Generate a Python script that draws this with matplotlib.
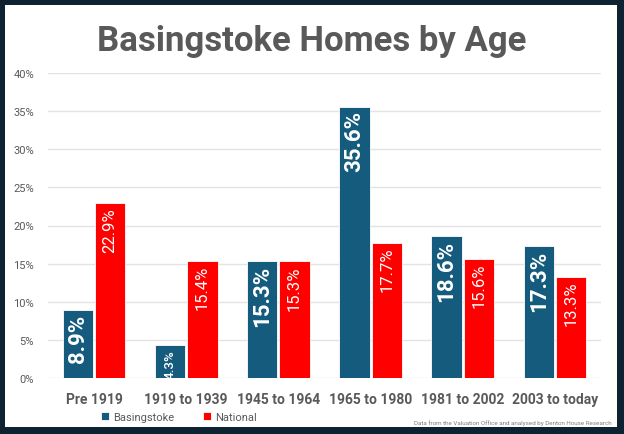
import matplotlib.pyplot as plt
from matplotlib.patches import Rectangle
import numpy as np

categories = ["Pre 1919", "1919 to 1939", "1945 to 1964", "1965 to 1980", "1981 to 2002", "2003 to today"]
basingstoke = [8.9, 4.3, 15.3, 35.6, 18.6, 17.3]
national = [22.9, 15.4, 15.3, 17.7, 15.6, 13.3]
yticks = [0, 5, 10, 15, 20, 25, 30, 35, 40]

blue = "#155b7d"
red = "#ff0000"
grey = "#595959"

plt.rcParams["font.family"] = ["Roboto", "DejaVu Sans"]

fig = plt.figure(figsize=(6.24, 4.35), dpi=100)
fig.patch.set_facecolor("#0d2232")

# white card inside the dark frame
fig.patches.append(Rectangle((5 / 624, 1 - 428 / 435), 612 / 624, 422 / 435,
                             transform=fig.transFigure, facecolor="white",
                             edgecolor="none", zorder=-5))

ax = fig.add_axes([48 / 624, 1 - 379 / 435, 553 / 624, 305 / 435])
ax.set_facecolor("white")

x = np.arange(len(categories))
w = 0.33
b1 = ax.bar(x - w / 2 - 0.01, basingstoke, w, color=blue, edgecolor="white", linewidth=0.6,
            label="Basingstoke", zorder=3)
b2 = ax.bar(x + w / 2 + 0.01, national, w, color=red, edgecolor="white", linewidth=0.6,
            label="National", zorder=3)

for rect, v in zip(b1, basingstoke):
    small = v < 6
    ax.text(rect.get_x() + rect.get_width() / 2, v - 0.5, f"{v}%",
            rotation=90, ha="center", va="top", color="white",
            fontsize=9.5 if small else 16, fontweight="medium" if small else "bold",
            zorder=4)
for rect, v in zip(b2, national):
    ax.text(rect.get_x() + rect.get_width() / 2, v - 0.5, f"{v}%",
            rotation=90, ha="center", va="top", color="white",
            fontsize=12, zorder=4)

ax.set_xlim(-0.5, 5.5)
ax.set_ylim(0, 40)
ax.set_yticks(yticks)
ax.set_yticklabels([f"{t}%" for t in yticks], fontsize=8, color=grey)
ax.set_xticks(x)
ax.set_xticklabels(categories, fontsize=10, fontweight="bold", color=grey)
ax.tick_params(length=0)
ax.tick_params(axis="x", pad=10)
ax.tick_params(axis="y", pad=10)
ax.grid(axis="y", color="#e3e3e3", linewidth=1, zorder=0)
for s in ax.spines.values():
    s.set_visible(False)

fig.text(0.5, 1 - 42 / 435, "Basingstoke Homes by Age", ha="center", va="center",
         fontsize=25, fontweight="bold", color=grey)

ax.legend(loc="center left", bbox_to_anchor=(91 / 624, 1 - 418 / 435),
          bbox_transform=fig.transFigure, ncol=2, frameon=False, fontsize=8,
          handlelength=0.7, handleheight=0.7, columnspacing=2.6, handletextpad=0.4,
          labelcolor=grey)

fig.text(612 / 624, 1 - 423 / 435,
         "Data from the Valuation Office and analysed by Denton House Research",
         ha="right", va="center", fontsize=4.5, color="#7f7f7f")

fig.savefig("out.png", dpi=100)
